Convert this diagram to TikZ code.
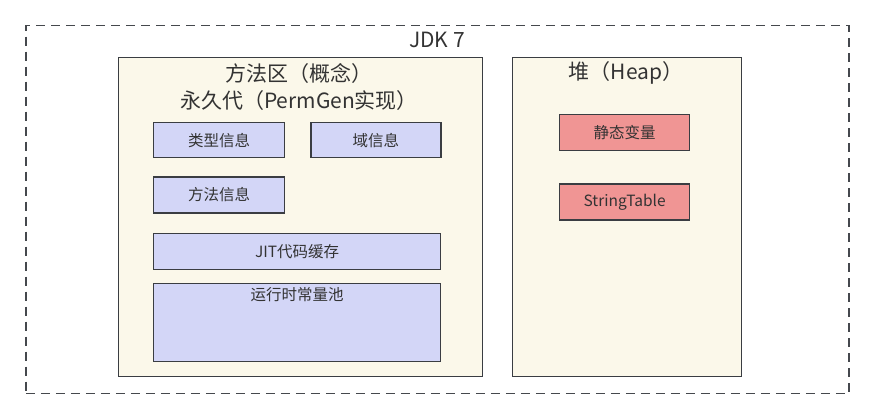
\documentclass[tikz,border=0pt]{standalone}
\usepackage{fontspec}
\setmainfont{Noto Sans CJK SC}
\usetikzlibrary{positioning}
\definecolor{linegray}{HTML}{3A3D42}
\definecolor{dashgray}{HTML}{45484D}
\definecolor{textgray}{HTML}{333333}
\definecolor{panelbg}{HTML}{FBF8EA}
\definecolor{infobg}{HTML}{D3D6F7}
\definecolor{heapbg}{HTML}{F09594}

\begin{document}
\begin{tikzpicture}[x=1pt,y=-1pt,
		panel/.style={draw=linegray, fill=panelbg, line width=1.3pt, anchor=north west, inner sep=0pt},
		infobox/.style={draw=linegray, fill=infobg, line width=1.3pt, inner sep=0pt,
					text=textgray, font=\fontsize{15.5}{18}\selectfont},
		heapbox/.style={infobox, fill=heapbg, minimum width=130pt, minimum height=36pt},
		title/.style={text=textgray, font=\fontsize{21}{27}\selectfont, align=center}]
		\useasboundingbox (0,0) rectangle (873,419);

		% outer JDK frame
		\node[draw=dashgray, line width=1.5pt, dash pattern=on 9pt off 6pt, anchor=north west,
			minimum width=823pt, minimum height=368pt, inner sep=0pt] (jdk) at (25,25) {};
		\node[title] (jdklabel) at (437,40) {JDK 7};

		% method area / heap
		\node[panel, minimum width=364pt, minimum height=319pt] (method) at (118,57) {};
		\node[panel, minimum width=229pt, minimum height=319pt] (heap) at (512,57) {};
		\node[title] (methodlabel) at (299,87) {方法区（概念）\\永久代（PermGen实现）};
		\node[title] (heaplabel) at (626,73) {堆（Heap）};

		\node[infobox, anchor=north west, minimum width=131pt, minimum height=35pt] (typeinfo) at (153,122) {类型信息};
		\node[infobox, minimum width=130pt, minimum height=35pt, right=25pt of typeinfo] (fieldinfo) {域信息};
		\node[infobox, minimum width=131pt, minimum height=36pt, below=18pt of typeinfo] (methodinfo) {方法信息};
		\node[infobox, minimum width=287pt, minimum height=36pt,
			below=19pt of methodinfo.south west, anchor=north west] (jitcache) {JIT代码缓存};
		\node[infobox, minimum width=287pt, minimum height=78pt,
			below=13pt of jitcache.south west, anchor=north west] (constpool) {};
		\node[text=textgray, font=\fontsize{15.5}{18}\selectfont, below=1pt of constpool.north] (constlabel) {运行时常量池};

		\node[heapbox, anchor=north west] (staticvar) at (559,114) {静态变量};
		\node[heapbox, below=32pt of staticvar] (stringtable) {StringTable};
	\end{tikzpicture}
\end{document}
